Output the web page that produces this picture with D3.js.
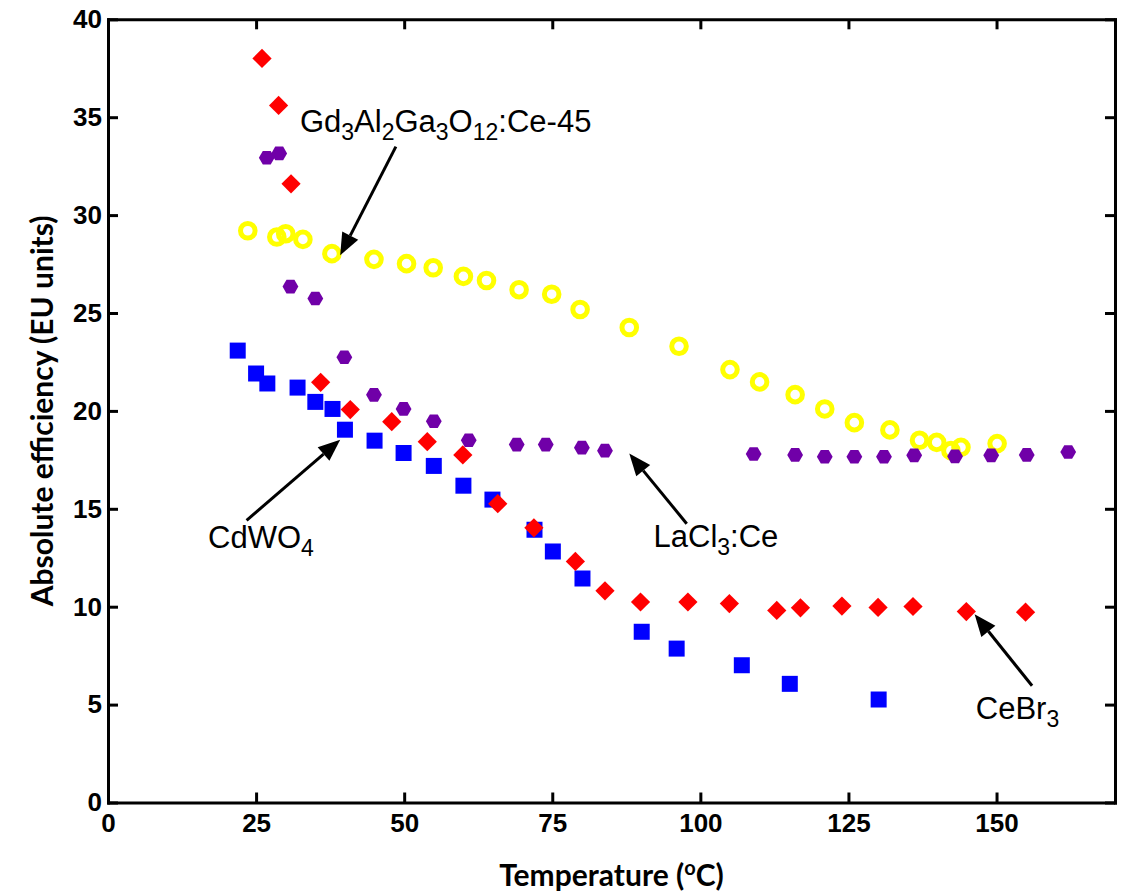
<!DOCTYPE html>
<html>
<head>
<meta charset="utf-8">
<script src="https://cdn.jsdelivr.net/npm/d3@7"></script>
<style>
  body { margin: 0; background: #fff; }
  svg { display: block; }
</style>
</head>
<body>
<svg id="chart"></svg>
<script>
// data (temperature in C, efficiency in EU units)
const ceBr3T = [26, 28.8, 30.9, 35.9, 40.9, 47.9, 53.9, 59.9, 65.8, 71.9, 78.9, 83.9, 89.9, 97.9, 104.9, 112.9, 116.9, 123.9, 130, 135.9, 144.9, 154.9];
const ceBr3E = [38.0, 35.6, 31.6, 21.46, 20.07, 19.45, 18.43, 17.75, 15.26, 14.03, 12.31, 10.81, 10.24, 10.24, 10.16, 9.81, 9.94, 10.03, 9.96, 10.01, 9.75, 9.72];

const cdwo4T = [21.9, 25.0, 26.9, 32.0, 35.0, 37.9, 40.0, 45.0, 49.9, 55.0, 60.0, 64.9, 72.0, 75.1, 80.1, 90.1, 96.0, 107.0, 115.1, 130.1];
const cdwo4E = [23.08, 21.91, 21.40, 21.19, 20.46, 20.10, 19.04, 18.48, 17.85, 17.19, 16.18, 15.47, 13.93, 12.82, 11.44, 8.72, 7.86, 7.01, 6.06, 5.26];

const laCl3T = [26.8, 28.9, 30.8, 35.0, 39.9, 44.9, 49.9, 55.0, 60.9, 69.0, 73.9, 80.0, 83.9, 109.0, 116.0, 121.0, 126.0, 131.0, 136.1, 143.0, 149.1, 155.1, 162.1];
const laCl3E = [32.93, 33.15, 26.35, 25.74, 22.74, 20.82, 20.10, 19.47, 18.50, 18.28, 18.28, 18.12, 17.97, 17.80, 17.75, 17.66, 17.66, 17.66, 17.73, 17.68, 17.73, 17.75, 17.90];

const gaggT = [23.6, 28.5, 30.0, 32.9, 37.8, 44.9, 50.4, 54.9, 60.0, 63.9, 69.4, 74.9, 79.7, 88.0, 96.4, 105.0, 110.0, 116.0, 121.0, 126.0, 132.0, 137.0, 139.9, 142.3, 144.0, 150.1];
const gaggE = [29.20, 28.88, 29.05, 28.76, 28.03, 27.74, 27.52, 27.31, 26.87, 26.66, 26.19, 25.96, 25.18, 24.26, 23.30, 22.11, 21.48, 20.83, 20.10, 19.40, 19.03, 18.50, 18.39, 17.97, 18.14, 18.33];

const xTicks = [0, 25, 50, 75, 100, 125, 150];
const yTicks = [0, 5, 10, 15, 20, 25, 30, 35, 40];

// labels: [parts as [text, isSub]], text anchor, arrow tail, arrow tip (data units)
const notes = [
  {parts: [["Gd", 0], ["3", 1], ["Al", 0], ["2", 1], ["Ga", 0], ["3", 1], ["O", 0], ["12", 1], [":Ce-45", 0]], at: [32.4, 34.26], from: [48.6, 33.5], to: [39.2, 27.95]},
  {parts: [["CdWO", 0], ["4", 1]], at: [16.9, 13.0], from: [23.4, 14.41], to: [39.2, 18.53]},
  {parts: [["LaCl", 0], ["3", 1], [":Ce", 0]], at: [92.1, 13.06], from: [97.7, 14.24], to: [88.0, 17.82]},
  {parts: [["CeBr", 0], ["3", 1]], at: [146.5, 4.25], from: [156.0, 5.96], to: [146.3, 9.62]}
];

const [w, h] = [1134, 895];
const [mLeft, mRight, mTop, mBottom] = [108, 1115, 19.3, 802.5];

const svg = d3.select("#chart").attr("width", w).attr("height", h);

const x = d3.scaleLinear().domain([0, 170]).range([mLeft, mRight]);
const y = d3.scaleLinear().domain([0, 40]).range([mBottom, mTop]);

//axes with inward ticks, mirrored on top and right
const styleAxis = g => {
  g.select(".domain").attr("stroke", "#000").attr("stroke-width", 3).attr("stroke-linecap", "square");
  g.selectAll(".tick line").attr("stroke", "#000").attr("stroke-width", 3);
  g.selectAll(".tick text").attr("fill", "#000")
    .style("font-family", "'Liberation Sans', Arial, sans-serif").style("font-weight", "bold").style("font-size", "26px");
};

svg.append("g").attr("transform", `translate(0,${mBottom})`)
  .call(d3.axisBottom(x).tickValues(xTicks).tickSizeInner(-10).tickSizeOuter(0).tickPadding(11))
  .call(styleAxis);
svg.append("g").attr("transform", `translate(0,${mTop})`)
  .call(d3.axisTop(x).tickValues(xTicks).tickSizeInner(-10).tickSizeOuter(0).tickFormat(""))
  .call(styleAxis);
svg.append("g").attr("transform", `translate(${mLeft},0)`)
  .call(d3.axisLeft(y).tickValues(yTicks).tickSizeInner(-10).tickSizeOuter(0).tickPadding(6))
  .call(styleAxis);
svg.append("g").attr("transform", `translate(${mRight},0)`)
  .call(d3.axisRight(y).tickValues(yTicks).tickSizeInner(-10).tickSizeOuter(0).tickFormat(""))
  .call(styleAxis);

//axis titles
const titleFont = "Lato, 'Open Sans', sans-serif";
const xt = svg.append("text").attr("x", (mLeft + mRight) / 2).attr("y", 886)
  .attr("text-anchor", "middle").style("font-family", titleFont).style("font-weight", "bold").style("font-size", "30px");
xt.append("tspan").text("Temperature (");
xt.append("tspan").attr("dy", -11).style("font-size", "20px").text("o");
xt.append("tspan").attr("dy", 11).text("C)");

svg.append("text").attr("transform", `translate(53,${(mTop + mBottom) / 2}) rotate(-90)`)
  .attr("text-anchor", "middle").style("font-family", titleFont).style("font-weight", "bold").style("font-size", "30px")
  .text("Absolute efficiency (EU units)");

//markers
const zip = (a, b) => a.map((d, i) => [d, b[i]]);

svg.append("g").selectAll("circle").data(zip(gaggT, gaggE)).enter().append("circle")
  .attr("cx", d => x(d[0])).attr("cy", d => y(d[1])).attr("r", 7.3)
  .attr("fill", "none").attr("stroke", "#ffff00").attr("stroke-width", 5);

svg.append("g").selectAll("path").data(zip(cdwo4T, cdwo4E)).enter().append("path")
  .attr("d", d3.symbol(d3.symbolSquare, 256))
  .attr("transform", d => `translate(${x(d[0])},${y(d[1])})`).attr("fill", "#0000ff");

svg.append("g").selectAll("path").data(zip(ceBr3T, ceBr3E)).enter().append("path")
  .attr("d", d3.symbol(d3.symbolSquare, 185))
  .attr("transform", d => `translate(${x(d[0])},${y(d[1])}) rotate(45)`).attr("fill", "#ff0000");

const hexR = 7.9;
const hexPath = "M" + d3.range(6).map(i => [hexR * Math.cos(i * Math.PI / 3), hexR * Math.sin(i * Math.PI / 3)].join(",")).join("L") + "Z";
svg.append("g").selectAll("path").data(zip(laCl3T, laCl3E)).enter().append("path")
  .attr("d", hexPath)
  .attr("transform", d => `translate(${x(d[0])},${y(d[1])})`).attr("fill", "#7000a8");

//annotations with arrows
const ann = svg.append("g");
notes.forEach(n => {
  const t = ann.append("text").attr("x", x(n.at[0])).attr("y", y(n.at[1]))
    .style("font-family", "'Liberation Sans', Arial, sans-serif").style("font-size", "31px");
  let sub = 0;
  n.parts.forEach(p => {
    const shift = p[1] ? 8 : 0;
    t.append("tspan").attr("dy", shift - sub).style("font-size", p[1] ? "23px" : "31px").text(p[0]);
    sub = shift;
  });

  const [x1, y1, x2, y2] = [x(n.from[0]), y(n.from[1]), x(n.to[0]), y(n.to[1])];
  const ang = Math.atan2(y2 - y1, x2 - x1);
  const [len, hw] = [22, 9];
  const bx = x2 - len * Math.cos(ang), by = y2 - len * Math.sin(ang);
  ann.append("line").attr("x1", x1).attr("y1", y1).attr("x2", bx).attr("y2", by)
    .attr("stroke", "#000").attr("stroke-width", 3);
  ann.append("path")
    .attr("d", `M${x2},${y2}L${bx + hw * Math.sin(ang)},${by - hw * Math.cos(ang)}L${bx - hw * Math.sin(ang)},${by + hw * Math.cos(ang)}Z`)
    .attr("fill", "#000");
});
</script>
</body>
</html>
